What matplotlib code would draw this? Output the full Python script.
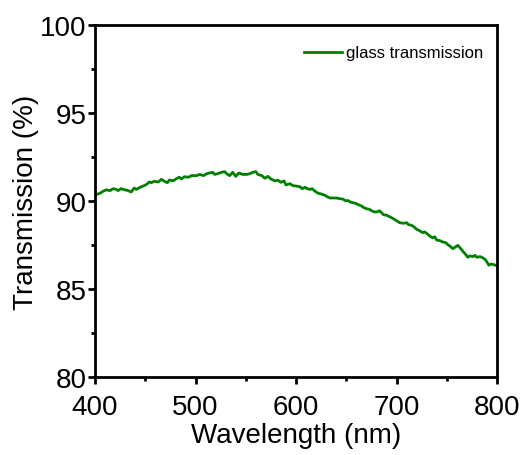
import numpy as np
import matplotlib
matplotlib.use('Agg')
import matplotlib.pyplot as plt
from matplotlib.ticker import AutoMinorLocator

# values
wavelength = [401, 405, 408, 411, 415, 418, 421, 423, 426, 430, 433, 436, 439,
              441, 445, 448, 451, 454, 456, 459, 463, 466, 469, 472, 474, 478,
              481, 484, 486, 489, 493, 496, 498, 501, 504, 508, 511, 514, 517,
              519, 522, 526, 529, 531, 534, 537, 540, 543, 547, 551, 554, 557,
              560, 562, 566, 569, 572, 575, 579, 582, 585, 588, 590, 594, 597,
              600, 604, 606, 609, 611, 614, 616, 619, 622, 625, 629, 631, 634,
              637, 640, 644, 647, 649, 652, 654, 657, 659, 662, 665, 667, 670,
              673, 675, 678, 681, 683, 685, 687, 690, 693, 697, 700, 703, 707,
              710, 712, 715, 718, 720, 723, 726, 728, 730, 733, 736, 738, 740,
              743, 746, 749, 751, 754, 756, 759, 761, 764, 766, 769, 771, 773,
              776, 778, 780, 783, 785, 788, 790, 792, 794, 797, 800]
transmission = [90.36, 90.44, 90.55, 90.63, 90.59, 90.70, 90.66, 90.59, 90.70,
                90.63, 90.59, 90.51, 90.74, 90.66, 90.78, 90.85, 90.93, 91.08,
                91.04, 91.12, 91.08, 91.23, 91.12, 91.04, 91.19, 91.15, 91.27,
                91.35, 91.25, 91.38, 91.35, 91.44, 91.44, 91.44, 91.51, 91.44,
                91.55, 91.59, 91.63, 91.51, 91.55, 91.63, 91.67, 91.55, 91.44,
                91.63, 91.40, 91.59, 91.51, 91.51, 91.55, 91.63, 91.67, 91.51,
                91.44, 91.29, 91.40, 91.25, 91.14, 91.18, 91.06, 91.14, 90.91,
                90.98, 90.87, 90.85, 90.81, 90.70, 90.78, 90.70, 90.66, 90.70,
                90.55, 90.44, 90.40, 90.32, 90.24, 90.17, 90.17, 90.17, 90.13,
                90.10, 90.02, 90.02, 89.94, 89.90, 89.87, 89.79, 89.72, 89.64,
                89.56, 89.53, 89.45, 89.38, 89.38, 89.45, 89.34, 89.22, 89.19,
                89.11, 88.99, 88.88, 88.77, 88.73, 88.77, 88.65, 88.62, 88.50,
                88.39, 88.31, 88.20, 88.24, 88.16, 88.01, 87.90, 87.97, 87.78,
                87.75, 87.67, 87.63, 87.52, 87.40, 87.29, 87.40, 87.48, 87.29,
                87.14, 86.95, 86.80, 86.88, 86.84, 86.91, 86.80, 86.84, 86.80,
                86.69, 86.53, 86.35, 86.42, 86.38, 86.31]

plt.rcParams['font.family'] = ['Liberation Sans', 'DejaVu Sans']

fig = plt.figure(figsize=(5.2, 4.56), dpi=100)
ax = fig.add_axes([0.1827, 0.1711, 0.7731, 0.7719])

ax.plot(wavelength, transmission, color='green', lw=2.0, label='glass transmission')

ax.set_xlim(400, 800)
ax.set_ylim(80, 100)
ax.set_xticks([400, 500, 600, 700, 800])
ax.set_yticks([80, 85, 90, 95, 100])
ax.xaxis.set_minor_locator(AutoMinorLocator(2))
ax.yaxis.set_minor_locator(AutoMinorLocator(2))

for s in ax.spines.values():
    s.set_linewidth(2.0)
ax.tick_params(which='both', direction='out', top=False, right=False, width=2.0)
ax.tick_params(which='major', length=5, labelsize=20)
ax.tick_params(axis='y', which='major', pad=1)
ax.tick_params(axis='x', which='major', pad=7)
ax.tick_params(which='minor', length=3)

ax.set_xlabel('Wavelength (nm)', fontsize=20, labelpad=2)
ax.set_ylabel('Transmission (%)', fontsize=20, labelpad=0.5)

ax.legend(loc='upper right', bbox_to_anchor=(1.0, 0.98), frameon=False,
          fontsize=12, handlelength=2.3, handletextpad=0.25, borderaxespad=0.4)

fig.savefig('out.png', dpi=100)
